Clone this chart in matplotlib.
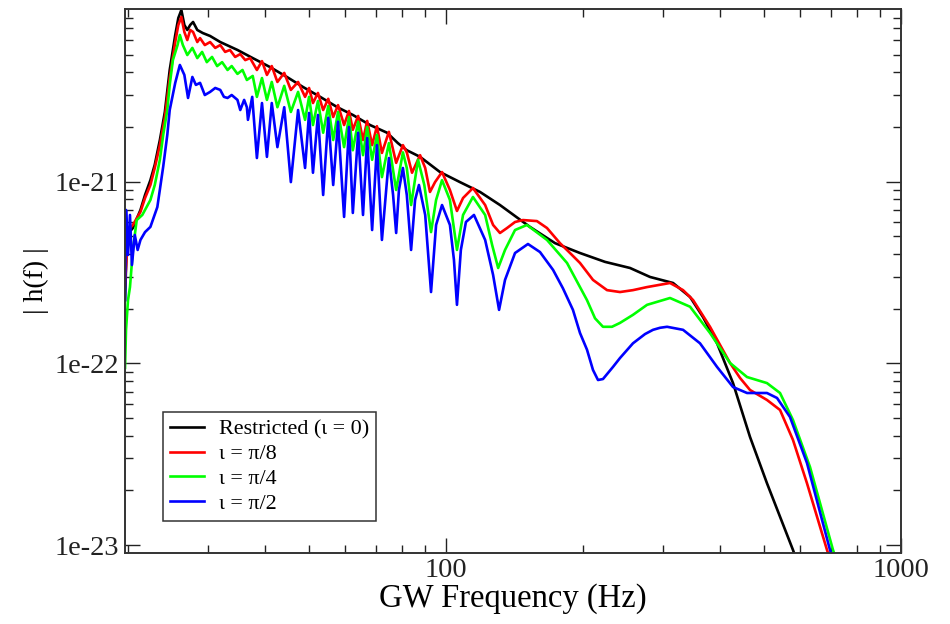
import numpy as np
import matplotlib.pyplot as plt
from matplotlib.ticker import LogLocator, FixedLocator, FuncFormatter, NullFormatter

plt.rcParams['font.family'] = ['Liberation Serif', 'DejaVu Serif']

# (frequency in Hz, |h(f)| in units of 1e-22)
restricted = [
    (19.7, 2.23), (19.9, 5.09), (20.5, 5.56), (21.3, 6.99), (21.8, 8.45), (22.4, 10.2),
    (22.9, 12.4), (23.5, 16.96), (24.1, 24.2), (24.7, 41.2), (25.4, 64.2), (25.8, 79.6),
    (26.2, 88.1), (26.6, 72.9), (27.0, 68.4), (27.4, 72.9), (27.8, 75.7), (28.4, 68.4),
    (29.2, 65.8), (30.3, 63.4), (31.9, 58.7), (34.8, 53.1), (37.6, 47.9), (41.0, 42.8),
    (44.7, 37.7), (48.5, 33.2), (52.9, 29.3), (57.7, 25.7), (62.4, 23.3), (68.1, 20.5),
    (74.2, 18.6), (78.4, 16.3), (82.0, 14.9), (87.7, 13.7), (97.0, 11.3), (107.3, 9.95),
    (118.8, 8.78), (131.4, 7.44), (152.9, 5.64), (173.6, 4.59), (197.0, 4.05), (223.6, 3.62),
    (253.8, 3.35), (280.8, 2.99), (315.5, 2.77), (343.9, 2.32), (367.1, 1.80), (394.2, 1.29),
    (427.4, 0.779), (465.7, 0.394), (507.5, 0.219), (578.9, 0.094), (599.8, 0.073),
]

iota_pi8 = [
    (19.7, 2.70), (20.0, 5.42), (20.5, 5.78), (21.3, 6.82), (21.8, 8.13), (22.4, 9.59),
    (22.9, 11.9), (23.5, 15.9), (24.1, 22.5), (24.7, 37.2), (25.4, 58.7), (25.8, 72.9),
    (26.2, 80.6), (26.6, 66.7), (27.0, 60.2), (27.4, 68.4), (27.8, 66.7), (28.4, 58.7),
    (28.8, 61.7), (29.5, 56.5), (30.3, 58.7), (31.1, 54.5), (31.9, 56.5), (32.7, 51.8),
    (33.5, 53.1), (34.4, 48.6), (35.3, 50.4), (36.2, 46.7), (37.1, 47.9), (38.4, 41.2),
    (39.4, 46.1), (40.4, 38.7), (41.4, 43.3), (42.6, 35.4), (44.1, 39.7), (45.6, 32.0),
    (47.3, 35.4), (49.0, 29.3), (50.0, 32.8), (51.0, 27.1), (52.3, 30.8), (53.7, 24.8),
    (55.1, 28.6), (56.5, 22.7), (57.9, 26.4), (59.7, 20.5), (61.2, 24.5), (62.4, 19.3),
    (64.1, 23.0), (65.7, 16.96), (67.1, 21.6), (68.8, 15.9), (70.5, 20.2), (72.3, 14.4),
    (74.9, 18.8), (77.7, 12.7), (80.4, 15.9), (82.0, 14.5), (84.2, 11.2), (87.7, 14.0),
    (90.0, 11.9), (92.2, 8.78), (94.6, 9.95), (98.0, 11.3), (102.0, 9.00), (105.7, 6.90),
    (109.0, 8.13), (114.6, 9.23), (121.9, 7.44), (126.9, 5.78), (131.4, 5.22), (136.2, 5.56),
    (141.8, 6.00), (147.6, 6.15), (158.4, 6.07), (166.7, 5.56), (178.0, 4.59), (187.3, 4.05),
    (197.0, 3.57), (210.4, 2.88), (225.9, 2.53), (241.2, 2.47), (257.6, 2.53), (276.6, 2.63),
    (310.7, 2.77), (331.9, 2.53), (349.2, 2.23), (380.4, 1.59), (421.0, 1.005), (442.9, 0.831),
    (465.7, 0.714), (507.5, 0.629), (542.2, 0.554), (578.9, 0.379), (621.4, 0.219),
    (687.7, 0.094), (716.1, 0.069),
]

iota_pi4 = [
    (19.7, 0.944), (19.8, 1.53), (20.0, 2.23), (20.2, 2.63), (20.5, 4.21), (20.9, 6.15),
    (21.5, 6.56), (22.4, 7.93), (22.9, 9.59), (23.5, 13.2), (23.9, 18.1), (24.4, 24.8),
    (24.7, 34.1), (25.1, 46.7), (25.7, 56.5), (26.0, 64.2), (26.4, 56.5), (27.0, 49.8),
    (27.7, 54.5), (28.4, 47.9), (29.1, 51.8), (29.8, 45.5), (30.6, 48.6), (31.4, 43.3),
    (32.2, 45.5), (33.1, 41.2), (33.8, 43.3), (34.8, 39.2), (35.7, 41.2), (36.5, 36.3),
    (37.6, 38.2), (38.4, 29.3), (39.4, 37.2), (40.4, 28.2), (41.4, 35.4), (42.6, 25.7),
    (44.1, 33.7), (45.6, 24.2), (47.3, 31.2), (49.0, 21.9), (50.0, 29.3), (51.0, 20.5),
    (52.3, 27.8), (53.7, 18.6), (55.1, 26.1), (56.5, 16.96), (57.9, 24.2), (59.7, 15.5),
    (61.2, 22.7), (62.4, 14.9), (64.1, 21.4), (65.7, 14.0), (67.1, 20.0), (68.8, 13.2),
    (70.5, 18.1), (72.3, 10.6), (74.9, 16.3), (77.7, 9.00), (80.4, 14.5), (82.0, 11.9),
    (83.8, 7.44), (86.8, 13.2), (89.6, 9.59), (92.7, 5.28), (95.1, 7.93), (98.0, 10.2),
    (102.0, 7.93), (105.7, 4.21), (109.0, 6.56), (114.6, 8.24), (121.9, 6.56), (126.3, 4.48),
    (130.2, 3.35), (134.8, 4.21), (141.8, 5.42), (150.6, 5.78), (166.7, 4.78), (184.5, 3.57),
    (197.0, 2.63), (204.1, 2.23), (212.6, 1.77), (221.3, 1.59), (231.6, 1.59), (241.2, 1.67),
    (257.6, 1.85), (276.6, 2.10), (310.7, 2.29), (343.9, 2.05), (380.4, 1.47), (421.0, 1.005),
    (458.8, 0.841), (507.5, 0.779), (542.2, 0.687), (578.9, 0.488), (631.0, 0.269),
    (708.9, 0.094), (734.5, 0.072),
]

iota_pi2 = [
    (19.7, 2.23), (19.8, 6.99), (20.0, 3.95), (20.2, 6.56), (20.4, 3.48), (20.7, 5.09),
    (21.0, 4.21), (21.3, 4.78), (21.8, 5.28), (22.4, 5.64), (23.2, 7.25), (23.9, 12.1),
    (24.4, 18.1), (24.7, 24.8), (25.4, 35.0), (26.0, 43.9), (26.6, 38.7), (27.1, 28.9),
    (27.7, 37.7), (28.2, 34.1), (28.8, 35.0), (29.5, 30.0), (30.3, 31.2), (31.1, 32.8),
    (31.9, 32.0), (32.5, 29.3), (33.1, 28.9), (33.8, 30.0), (34.8, 28.2), (35.3, 24.8),
    (36.0, 28.2), (36.5, 25.7), (36.7, 21.9), (37.5, 29.3), (38.4, 13.5), (39.4, 27.1),
    (40.4, 13.7), (41.4, 27.1), (42.6, 15.5), (44.1, 25.7), (45.6, 9.95), (47.3, 24.8),
    (49.0, 11.9), (50.0, 23.9), (51.0, 11.2), (52.3, 23.3), (53.7, 8.45), (55.1, 22.5),
    (56.5, 9.59), (57.9, 21.4), (59.7, 6.40), (61.2, 20.0), (62.4, 6.73), (64.1, 18.6),
    (65.7, 6.56), (67.1, 17.4), (68.8, 5.42), (70.5, 15.9), (72.3, 4.78), (74.9, 13.5),
    (76.5, 8.45), (77.7, 5.22), (78.8, 9.00), (80.4, 11.9), (82.0, 8.45), (83.8, 4.21),
    (85.5, 7.93), (87.2, 9.59), (90.0, 6.56), (92.7, 2.47), (95.1, 5.78), (98.0, 7.44),
    (102.0, 5.78), (104.1, 3.71), (105.7, 2.10), (107.8, 4.21), (110.6, 6.00), (115.2, 6.56),
    (121.9, 4.78), (126.9, 3.07), (130.8, 1.97), (134.8, 2.88), (141.8, 4.05), (151.4, 4.54),
    (160.9, 4.10), (171.9, 3.27), (180.7, 2.59), (190.1, 1.97), (197.0, 1.47), (204.1, 1.19),
    (210.4, 0.920), (215.8, 0.810), (221.3, 0.820), (232.8, 0.956), (241.2, 1.07),
    (257.6, 1.29), (273.8, 1.45), (285.1, 1.53), (295.4, 1.57), (306.1, 1.59), (331.9, 1.53),
    (361.6, 1.29), (394.2, 0.956), (427.4, 0.741), (458.8, 0.687), (507.5, 0.687),
    (534.0, 0.645), (570.2, 0.507), (621.4, 0.283), (698.2, 0.094), (723.4, 0.072),
]

series = [
    (restricted, 'black', 'Restricted (ι = 0)'),
    (iota_pi8, '#ff0000', 'ι = π/8'),
    (iota_pi4, '#00ff00', 'ι = π/4'),
    (iota_pi2, '#0000ff', 'ι = π/2'),
]

fig = plt.figure(figsize=(9.5, 6.24), dpi=100)
ax = fig.add_axes([0.1316, 0.1143, 0.8168, 0.8708])

for pts, color, label in series:
    f, h = np.array(pts).T
    ax.plot(f, h * 1e-22, color=color, lw=1.9, label=label)

ax.set_xscale('log')
ax.set_yscale('log')
ax.set_xlim(19.7, 1000)
ax.set_ylim(9.08e-24, 8.89e-21)

# only the decades inside the frame get a label
ax.xaxis.set_major_locator(FixedLocator([100, 1000]))
ax.yaxis.set_major_locator(FixedLocator([1e-23, 1e-22, 1e-21]))
ax.xaxis.set_minor_locator(LogLocator(base=10, subs=range(2, 10)))
ax.yaxis.set_minor_locator(LogLocator(base=10, subs=range(2, 10)))
ax.xaxis.set_major_formatter(FuncFormatter(lambda v, p: f"{v:g}"))
ax.yaxis.set_major_formatter(FuncFormatter(lambda v, p: f"1e{int(round(np.log10(v)))}"))
ax.xaxis.set_minor_formatter(NullFormatter())
ax.yaxis.set_minor_formatter(NullFormatter())

ax.tick_params(which='both', direction='in', top=True, right=True, colors='#222222')
ax.tick_params(which='major', length=10.8, width=1.0, labelsize=20.5, pad=4)
ax.tick_params(which='minor', length=5.8, width=1.0)
for sp in ax.spines.values():
    sp.set_linewidth(1.4)
    sp.set_color('#333333')

ax.set_xlabel('GW Frequency (Hz)', fontsize=23.5, labelpad=0)
ax.set_ylabel('| h(f) |', fontsize=20, labelpad=4)

leg = ax.legend(loc='lower left', bbox_to_anchor=(0.049, 0.059), borderaxespad=0,
                fontsize=15.9, handlelength=1.55, handletextpad=0.68, labelspacing=0.2,
                borderpad=0.3, fancybox=False, framealpha=1)
leg.get_frame().set_edgecolor('#333333')
leg.get_frame().set_linewidth(1.1)

fig.savefig('out.png', dpi=100)
